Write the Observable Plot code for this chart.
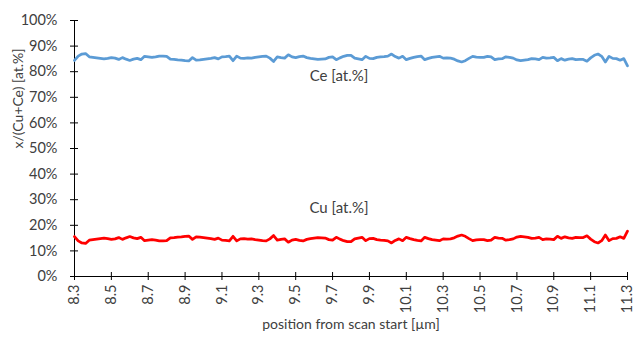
<!DOCTYPE html>
<html><head><meta charset="utf-8">
<script src="https://cdn.jsdelivr.net/npm/d3@7"></script>
<script src="https://cdn.jsdelivr.net/npm/@observablehq/plot@0.6"></script>
<style>body{margin:0;background:#fff}</style>
</head><body><div id="chart"></div>
<script>
// Ce fraction [at.%], one reading every 0.02 µm from 8.30 µm
const ce = [
84.4,86.1,86.9,87.1,85.8,85.6,85.4,85.2,85.0,85.2,
85.5,85.3,84.8,85.5,84.9,84.4,84.9,85.2,84.7,86.0,
85.8,85.6,85.8,86.1,86.1,86.0,84.9,84.8,84.6,84.5,
84.3,84.2,85.5,84.5,84.6,84.8,85.0,85.2,85.5,85.0,
85.8,85.9,86.1,84.3,86.1,85.3,85.2,85.4,85.3,85.6,
85.8,86.0,86.1,85.3,84.0,85.8,85.5,85.3,86.6,85.8,
85.5,85.9,86.1,85.5,85.2,85.0,84.8,84.9,85.0,85.6,
85.8,84.7,85.4,86.0,86.4,86.4,85.3,85.0,84.7,86.0,
85.2,85.1,85.6,85.8,85.9,86.1,86.9,85.9,85.3,86.0,
84.7,85.2,85.6,85.9,86.1,84.7,85.2,85.6,85.8,86.0,
85.3,85.4,85.3,84.9,84.2,83.8,84.3,85.2,86.0,85.7,
85.6,85.6,86.0,85.8,84.7,85.0,85.1,85.8,85.6,85.3,
84.6,84.3,84.5,84.7,85.1,85.0,84.7,85.6,85.3,85.4,
85.6,84.3,85.1,84.5,84.9,85.1,84.7,84.8,84.8,84.1,
85.4,86.4,86.9,86.0,83.8,86.0,85.2,85.1,84.5,85.1,
82.3];
// Cu fraction [at.%]
const cu = [
15.6,13.9,13.1,12.9,14.2,14.4,14.6,14.8,15.0,14.8,
14.5,14.7,15.2,14.5,15.1,15.6,15.1,14.8,15.3,14.0,
14.2,14.4,14.2,13.9,13.9,14.0,15.1,15.2,15.4,15.5,
15.7,15.8,14.5,15.5,15.4,15.2,15.0,14.8,14.5,15.0,
14.2,14.1,13.9,15.7,13.9,14.7,14.8,14.6,14.7,14.4,
14.2,14.0,13.9,14.7,16.0,14.2,14.5,14.7,13.4,14.2,
14.5,14.1,13.9,14.5,14.8,15.0,15.2,15.1,15.0,14.4,
14.2,15.3,14.6,14.0,13.6,13.6,14.7,15.0,15.3,14.0,
14.8,14.9,14.4,14.2,14.1,13.9,13.1,14.1,14.7,14.0,
15.3,14.8,14.4,14.1,13.9,15.3,14.8,14.4,14.2,14.0,
14.7,14.6,14.7,15.1,15.8,16.2,15.7,14.8,14.0,14.3,
14.4,14.4,14.0,14.2,15.3,15.0,14.9,14.2,14.4,14.7,
15.4,15.7,15.5,15.3,14.9,15.0,15.3,14.4,14.7,14.6,
14.4,15.7,14.9,15.5,15.1,14.9,15.3,15.2,15.2,15.9,
14.6,13.6,13.1,14.0,16.2,14.0,14.8,14.9,15.5,14.9,
17.7];
const scanStart = 8.3, scanStep = 0.02;
const position = ce.map((_, i) => +(scanStart + i * scanStep).toFixed(2));
const xTicks = [8.3,8.5,8.7,8.9,9.1,9.3,9.5,9.7,9.9,10.1,10.3,10.5,10.7,10.9,11.1,11.3];
const yTicks = [0,10,20,30,40,50,60,70,80,90,100];
const seriesNames = ["Ce [at.%]", "Cu [at.%]"];
const xTitle = "position from scan start [µm]";
const yTitle = "x/(Cu+Ce) [at.%]";

const ceData = position.map((x, i) => ({x, y: ce[i]}));
const cuData = position.map((x, i) => ({x, y: cu[i]}));

const W = 634, H = 338, mL = 74, mR = 7, mT = 20, mB = 62;
const pW = W - mL - mR, pH = H - mT - mB;
const axisColor = "#000";
const txt = "#404040";

const chart = Plot.plot({
  width: W, height: H,
  marginLeft: mL, marginRight: mR, marginTop: mT, marginBottom: mB,
  style: {fontFamily: "Lato, sans-serif", fontSize: "14px", color: txt, background: "#fff"},
  x: {domain: [xTicks[0], xTicks[xTicks.length - 1]]},
  y: {domain: [yTicks[0], yTicks[yTicks.length - 1]]},
  marks: [
    Plot.axisX({ticks: xTicks, tickSize: 0, tickRotate: -90, tickPadding: 8, tickFormat: d => d.toFixed(1), label: null, fontSize: 14.5}),
    Plot.axisY({ticks: yTicks, tickSize: 0, tickPadding: 17, tickFormat: d => d + "%", label: null, fontSize: 14.5}),
    Plot.ruleY([yTicks[0]], {stroke: axisColor}),
    Plot.ruleX([xTicks[0]], {stroke: axisColor}),
    Plot.tickX(xTicks, {x: d => d, insetTop: pH - 4, insetBottom: -4, stroke: axisColor}),
    Plot.tickY(yTicks, {y: d => d, insetLeft: -4, insetRight: pW - 4, stroke: axisColor}),
    Plot.line(ceData, {x: "x", y: "y", stroke: "#5B9BD5", strokeWidth: 2.75, strokeLinejoin: "round"}),
    Plot.line(cuData, {x: "x", y: "y", stroke: "#FF0000", strokeWidth: 2.75, strokeLinejoin: "round"}),
    Plot.text([seriesNames[0]], {text: d => d, frameAnchor: "top", dx: -12, dy: 50, fontSize: 15, fill: txt}),
    Plot.text([seriesNames[1]], {text: d => d, frameAnchor: "bottom", dx: -12, dy: -64, fontSize: 15, fill: txt}),
    Plot.text([xTitle], {text: d => d, frameAnchor: "bottom", dy: 52, fontSize: 14, fill: txt}),
    Plot.text([yTitle], {text: d => d, frameAnchor: "left", dx: -56, rotate: -90, fontSize: 14, fill: txt})
  ]
});
document.getElementById("chart").appendChild(chart);
</script>
</body></html>
